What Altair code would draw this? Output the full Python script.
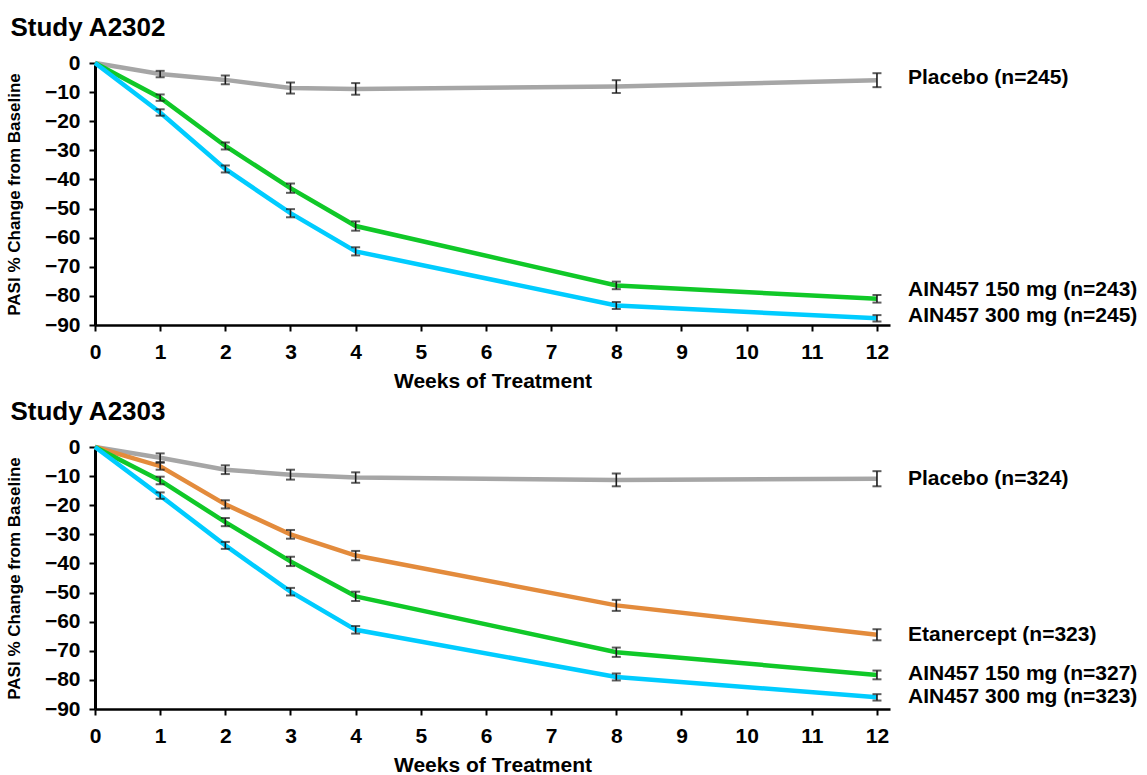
import altair as alt
import pandas as pd

FONT = "Liberation Sans"

weeks = [0, 1, 2, 3, 4, 8, 12]
x_ticks = list(range(0, 13))
y_ticks = [0, -10, -20, -30, -40, -50, -60, -70, -80, -90]

# ---- Study A2302 ----
a2302_names = ["Placebo", "AIN457 150 mg", "AIN457 300 mg"]
a2302_labels = ["Placebo (n=245)", "AIN457 150 mg (n=243)", "AIN457 300 mg (n=245)"]
a2302_placebo = [0, -3.8, -5.8, -8.6, -8.9, -8.1, -5.9]
a2302_placebo_se = [0, 1.1, 1.5, 1.9, 2.0, 2.2, 2.4]
a2302_150 = [0, -11.9, -28.5, -43.0, -56.0, -76.4, -81.0]
a2302_150_se = [0, 1.1, 1.2, 1.6, 1.6, 1.3, 1.3]
a2302_300 = [0, -17.0, -36.4, -51.6, -64.7, -83.3, -87.7]
a2302_300_se = [0, 1.1, 1.2, 1.4, 1.4, 1.2, 1.1]

# ---- Study A2303 ----
a2303_names = ["Placebo", "Etanercept", "AIN457 150 mg", "AIN457 300 mg"]
a2303_labels = ["Placebo (n=324)", "Etanercept (n=323)", "AIN457 150 mg (n=327)", "AIN457 300 mg (n=323)"]
a2303_placebo = [0, -3.7, -7.8, -9.5, -10.5, -11.3, -10.9]
a2303_placebo_se = [0, 1.5, 1.5, 1.7, 1.8, 2.2, 2.6]
a2303_etan = [0, -6.6, -19.7, -30.0, -37.3, -54.4, -64.5]
a2303_etan_se = [0, 1.2, 1.4, 1.5, 1.6, 1.9, 1.9]
a2303_150 = [0, -11.5, -25.8, -39.3, -51.3, -70.5, -78.3]
a2303_150_se = [0, 1.3, 1.4, 1.6, 1.6, 1.6, 1.5]
a2303_300 = [0, -16.7, -33.8, -49.7, -62.8, -79.0, -86.0]
a2303_300_se = [0, 1.1, 1.2, 1.3, 1.3, 1.2, 1.1]

all_names = ["Placebo", "Etanercept", "AIN457 150 mg", "AIN457 300 mg"]
all_colors = ["#A6A6A6", "#E38B3C", "#10C828", "#00CCFF"]

# pixel nudges for the end labels (style only)
a2302_label_dy = [-2, -9, -2]
a2303_label_dy = [0, 0, -1, 0]

W, H = 795, 262
XMAX = 12.2


def build_df(names, series, ses):
    rows = []
    for n, vals, se in zip(names, series, ses):
        for w, v, s in zip(weeks, vals, se):
            rows.append({"series": n, "week": w, "value": v,
                         "lo": v - s, "hi": v + s, "has_err": s > 0})
    return pd.DataFrame(rows)


def panel(title, names, labels, series, ses, label_dy):
    df = build_df(names, series, ses)
    xscale = alt.Scale(domain=[0, XMAX], nice=False)
    yscale = alt.Scale(domain=[-90, 0], nice=False)
    xaxis = alt.Axis(values=x_ticks, format="d", title="Weeks of Treatment")
    yaxis = alt.Axis(values=y_ticks, title="PASI % Change from Baseline")
    color = alt.Color("series:N", scale=alt.Scale(domain=all_names, range=all_colors),
                      legend=None)

    base = alt.Chart(df)
    lines = base.mark_line(strokeWidth=4.5, interpolate="linear").encode(
        x=alt.X("week:Q", scale=xscale, axis=xaxis),
        y=alt.Y("value:Q", scale=yscale, axis=yaxis),
        color=color, order="week:Q", detail="series:N")
    eb = base.transform_filter("datum.has_err")
    err = eb.mark_rule(color="#1a1a1a", strokeWidth=1.6).encode(
        x=alt.X("week:Q", scale=xscale, axis=xaxis),
        y=alt.Y("lo:Q", scale=yscale, axis=yaxis), y2="hi:Q")
    cap_lo = eb.mark_tick(orient="horizontal", color="#1a1a1a", size=9, thickness=2).encode(
        x=alt.X("week:Q", scale=xscale, axis=xaxis),
        y=alt.Y("lo:Q", scale=yscale, axis=yaxis))
    cap_hi = eb.mark_tick(orient="horizontal", color="#1a1a1a", size=9, thickness=2).encode(
        x=alt.X("week:Q", scale=xscale, axis=xaxis),
        y=alt.Y("hi:Q", scale=yscale, axis=yaxis))

    texts = []
    for n, lab, vals, dy in zip(names, labels, series, label_dy):
        tdf = pd.DataFrame({"week": [weeks[-1]], "value": [vals[-1]], "label": [lab]})
        texts.append(alt.Chart(tdf).mark_text(
            align="left", baseline="middle", dx=31, dy=dy, font=FONT,
            fontSize=21, fontWeight="bold", color="black").encode(
            x=alt.X("week:Q", scale=xscale, axis=xaxis),
            y=alt.Y("value:Q", scale=yscale, axis=yaxis), text="label:N"))

    return alt.layer(lines, err, cap_lo, cap_hi, *texts).properties(
        width=W, height=H,
        title=alt.TitleParams(title, anchor="start", font=FONT, fontSize=26,
                              fontWeight="bold", color="black", offset=11, dx=5))


top = panel("Study A2302", a2302_names, a2302_labels,
            [a2302_placebo, a2302_150, a2302_300],
            [a2302_placebo_se, a2302_150_se, a2302_300_se], a2302_label_dy)
bottom = panel("Study A2303", a2303_names, a2303_labels,
               [a2303_placebo, a2303_etan, a2303_150, a2303_300],
               [a2303_placebo_se, a2303_etan_se, a2303_150_se, a2303_300_se], a2303_label_dy)

chart = alt.vconcat(top, bottom, spacing=8).properties(
    padding={"left": 5, "top": 15, "right": 0, "bottom": 0},
    background="white"
).configure_view(stroke=None).configure_axis(
    grid=False, domainColor="black", tickColor="black", tickWidth=2, tickSize=6,
    labelFont=FONT, labelFontSize=21, labelFontWeight="bold", labelColor="black",
    labelOverlap=False, labelFlush=False,
    titleFont=FONT, titleFontWeight="bold", titleColor="black"
).configure_axisX(
    domainWidth=2.5, labelPadding=10, titleFontSize=21, titlePadding=8
).configure_axisY(
    domainWidth=3, labelPadding=9, titleFontSize=17, titlePadding=21
)

chart.save("out.html", embed_options={"renderer": "svg", "actions": False})
